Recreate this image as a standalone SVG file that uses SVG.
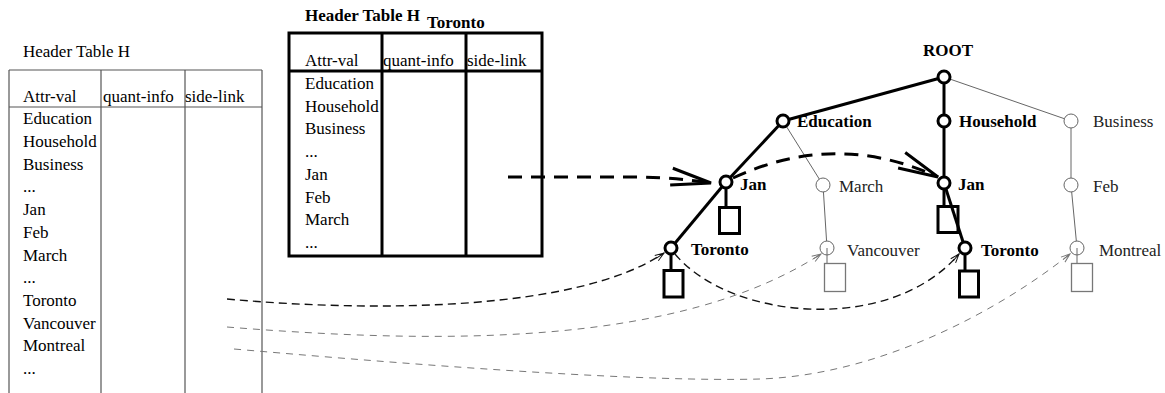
<svg xmlns="http://www.w3.org/2000/svg" width="1165" height="393" viewBox="0 0 1165 393">
  <style>
    text { font-family: "Liberation Serif", "Times New Roman", serif; font-size: 17px; fill: #000; }
    .b { font-weight: bold; }
    .g { fill: #222; }
    .tbl-thin { fill: none; stroke: #555; stroke-width: 1.2; }
    .tbl-bold { fill: none; stroke: #000; stroke-width: 3; }
    .edge-b { stroke: #000; stroke-width: 3; fill: none; }
    .edge-t { stroke: #666; stroke-width: 1; fill: none; }
    .node-b { fill: #fff; stroke: #000; stroke-width: 3; }
    .node-t { fill: #fff; stroke: #666; stroke-width: 1; }
    .leaf-b { fill: none; stroke: #000; stroke-width: 3; }
    .leaf-t { fill: none; stroke: #777; stroke-width: 1.3; }
    .link-thick { fill: none; stroke: #000; stroke-width: 3; stroke-dasharray: 14 9; }
    .link-dark { fill: none; stroke: #111; stroke-width: 1.4; stroke-dasharray: 8 5; }
    .link-gray { fill: none; stroke: #777; stroke-width: 1; stroke-dasharray: 7 6; }
  </style>
  <defs>
    <marker id="vBig" markerUnits="userSpaceOnUse" viewBox="-45 -15 50 30" markerWidth="50" markerHeight="30" refX="0" refY="0" orient="auto" overflow="visible">
      <path d="M-40,-8.5 L0,0 L-40,8.5" fill="none" stroke="#000" stroke-width="3"/>
    </marker>
    <marker id="vSmallDark" markerUnits="userSpaceOnUse" viewBox="-12 -6 14 12" markerWidth="14" markerHeight="12" refX="0" refY="0" orient="auto" overflow="visible">
      <path d="M-9,-3.2 L0,0 L-9,3.2 M-9,0 L0,0" fill="none" stroke="#111" stroke-width="1"/>
    </marker>
    <marker id="vSmallGray" markerUnits="userSpaceOnUse" viewBox="-12 -6 14 12" markerWidth="14" markerHeight="12" refX="0" refY="0" orient="auto" overflow="visible">
      <path d="M-9,-3.2 L0,0 L-9,3.2 M-9,0 L0,0" fill="none" stroke="#777" stroke-width="1"/>
    </marker>
  </defs>

  <!-- global header table -->
  <g id="header-table">
    <text x="23" y="57">Header Table H</text>
    <line class="tbl-thin" x1="9" y1="70" x2="262" y2="70"/>
    <line class="tbl-thin" x1="9" y1="107" x2="262" y2="107"/>
    <line class="tbl-thin" x1="9" y1="70" x2="9" y2="400"/>
    <line class="tbl-thin" x1="101" y1="70" x2="101" y2="400"/>
    <line class="tbl-thin" x1="185" y1="70" x2="185" y2="400"/>
    <line class="tbl-thin" x1="262" y1="70" x2="262" y2="400"/>
    <text x="23" y="102">Attr-val</text>
    <text x="103" y="102">quant-info</text>
    <text x="185" y="102">side-link</text>
    <text x="23" y="124.3">Education</text>
    <text x="23" y="147">Household</text>
    <text x="23" y="169.7">Business</text>
    <text x="23" y="192.4">...</text>
    <text x="23" y="215.1">Jan</text>
    <text x="23" y="237.8">Feb</text>
    <text x="23" y="260.5">March</text>
    <text x="23" y="283.2">...</text>
    <text x="23" y="305.9">Toronto</text>
    <text x="23" y="328.6">Vancouver</text>
    <text x="23" y="351.3">Montreal</text>
    <text x="23" y="374">...</text>
  </g>

  <!-- conditional header table for Toronto -->
  <g id="header-table-toronto">
    <text class="b" x="305" y="21">Header Table H</text>
    <text class="b" x="427" y="28">Toronto</text>
    <rect class="tbl-bold" x="289" y="33" width="253" height="223"/>
    <line class="tbl-bold" x1="289" y1="71" x2="542" y2="71"/>
    <line class="tbl-bold" x1="382" y1="33" x2="382" y2="256"/>
    <line class="tbl-bold" x1="466" y1="33" x2="466" y2="256"/>
    <text x="305" y="66">Attr-val</text>
    <text x="383" y="66">quant-info</text>
    <text x="467" y="66">side-link</text>
    <text x="305" y="89">Education</text>
    <text x="305" y="111.7">Household</text>
    <text x="305" y="134.4">Business</text>
    <text x="305" y="157.1">...</text>
    <text x="305" y="179.8">Jan</text>
    <text x="305" y="202.5">Feb</text>
    <text x="305" y="225.2">March</text>
    <text x="305" y="247.9">...</text>
  </g>

  <!-- tree edges -->
  <g id="tree-edges">
    <line class="edge-b" x1="944" y1="77" x2="783" y2="121"/>
    <line class="edge-b" x1="944" y1="77" x2="944" y2="121"/>
    <line class="edge-t" x1="944" y1="77" x2="1071" y2="121"/>
    <line class="edge-b" x1="783" y1="121" x2="726" y2="182"/>
    <line class="edge-b" x1="726" y1="182" x2="671" y2="248"/>
    <line class="edge-t" x1="783" y1="121" x2="823" y2="185"/>
    <line class="edge-t" x1="823" y1="185" x2="827" y2="248"/>
    <line class="edge-b" x1="944" y1="121" x2="944" y2="183"/>
    <line class="edge-b" x1="944" y1="183" x2="965" y2="248"/>
    <line class="edge-t" x1="1071" y1="121" x2="1071" y2="185"/>
    <line class="edge-t" x1="1071" y1="185" x2="1077" y2="248"/>
  </g>

  <!-- side-link connectors -->
  <g id="connectors">
    <path class="link-thick" d="M508,177 L640,177 Q680,178 711,183" marker-end="url(#vBig)"/>
    <path class="link-thick" d="M733,178 Q836,130 938,177" marker-end="url(#vBig)"/>
    <path class="link-dark" d="M227,299 C380,313 580,310 664,253" marker-end="url(#vSmallDark)"/>
    <path class="link-dark" d="M675,254 C730,320 890,335 959,254" marker-end="url(#vSmallDark)"/>
    <path class="link-gray" d="M227,327 C450,345 680,345 821,254" marker-end="url(#vSmallGray)"/>
    <path class="link-gray" d="M234,349 C450,368 650,382 760,379 C880,375 1000,310 1070,254" marker-end="url(#vSmallGray)"/>
  </g>

  <!-- tree nodes -->
  <g id="node-root">
    <circle class="node-b" cx="944" cy="77" r="6"/>
    <text class="b" x="923" y="56">ROOT</text>
  </g>
  <g id="node-education">
    <circle class="node-b" cx="783" cy="121" r="6"/>
    <text class="b" x="797" y="127">Education</text>
  </g>
  <g id="node-household">
    <circle class="node-b" cx="944" cy="121" r="6"/>
    <text class="b" x="959" y="127">Household</text>
  </g>
  <g id="node-business">
    <circle class="node-t" cx="1071" cy="121" r="7"/>
    <text class="g" x="1093" y="127">Business</text>
  </g>
  <g id="node-jan-edu">
    <line class="edge-b" x1="726" y1="182" x2="726" y2="207"/>
    <rect class="leaf-b" x="719.5" y="207.5" width="20" height="26"/>
    <circle class="node-b" cx="726" cy="182" r="6"/>
    <text class="b" x="740" y="190">Jan</text>
  </g>
  <g id="node-march">
    <circle class="node-t" cx="823" cy="185" r="7"/>
    <text class="g" x="839" y="192">March</text>
  </g>
  <g id="node-jan-house">
    <line class="edge-b" x1="944" y1="183" x2="944" y2="207"/>
    <rect class="leaf-b" x="938" y="206.5" width="20" height="26"/>
    <circle class="node-b" cx="944" cy="183" r="6"/>
    <text class="b" x="958" y="190">Jan</text>
  </g>
  <g id="node-feb">
    <circle class="node-t" cx="1071" cy="185" r="7"/>
    <text class="g" x="1093" y="192">Feb</text>
  </g>
  <g id="node-toronto-1">
    <line class="edge-b" x1="671" y1="248" x2="671" y2="271"/>
    <rect class="leaf-b" x="664" y="270.5" width="19" height="26.5"/>
    <circle class="node-b" cx="671" cy="248" r="6"/>
    <text class="b" x="691" y="255">Toronto</text>
  </g>
  <g id="node-vancouver">
    <circle class="node-t" cx="827" cy="248" r="7"/>
    <line class="edge-t" x1="827" y1="248" x2="827" y2="263"/>
    <rect class="leaf-t" x="824.5" y="263.5" width="21" height="28"/>
    <text class="g" x="847" y="256">Vancouver</text>
  </g>
  <g id="node-toronto-2">
    <line class="edge-b" x1="965" y1="248" x2="965" y2="271"/>
    <rect class="leaf-b" x="959.5" y="271" width="19" height="26"/>
    <circle class="node-b" cx="965" cy="248" r="6"/>
    <text class="b" x="981" y="256">Toronto</text>
  </g>
  <g id="node-montreal">
    <circle class="node-t" cx="1077" cy="248" r="7"/>
    <line class="edge-t" x1="1077" y1="248" x2="1077" y2="263"/>
    <rect class="leaf-t" x="1071.5" y="263.5" width="21" height="28"/>
    <text class="g" x="1099" y="256">Montreal</text>
  </g>
</svg>
